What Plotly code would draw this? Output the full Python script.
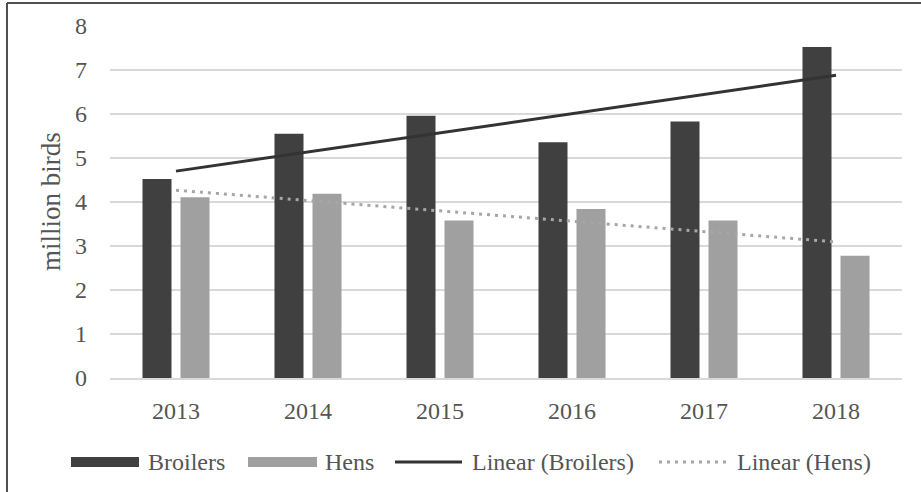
import numpy as np
import plotly.graph_objects as go

years = ["2013", "2014", "2015", "2016", "2017", "2018"]
broilers = [4.52, 5.55, 5.96, 5.36, 5.83, 7.52]
hens = [4.11, 4.19, 3.58, 3.84, 3.58, 2.78]
y_ticks = [0, 1, 2, 3, 4, 5, 6, 7, 8]

W, H = 921, 492
L, R, T, B = 110, 19, 26, 114
PW, PH = W - L - R, H - T - B

def px(x):
    return (x - L) / PW

def py(y):
    return (H - B - y) / PH

idx = np.arange(1, len(years) + 1)
bro_fit = np.polyval(np.polyfit(idx, broilers, 1), idx)
hen_fit = np.polyval(np.polyfit(idx, hens, 1), idx)

DARK = "#404040"
LIGHT = "#a0a0a0"
TXT = "#555555"
FONT = "Liberation Serif"

fig = go.Figure()
fig.add_trace(go.Bar(x=years, y=broilers, name="Broilers", marker=dict(color=DARK, line=dict(width=0))))
fig.add_trace(go.Bar(x=years, y=hens, name="Hens", marker=dict(color=LIGHT, line=dict(width=0))))
fig.add_trace(go.Scatter(x=years, y=bro_fit, mode="lines", name="Linear (Broilers)",
                         line=dict(color="#333333", width=3)))
fig.add_trace(go.Scatter(x=years, y=hen_fit, mode="lines", name="Linear (Hens)",
                         line=dict(color="#a6a6a6", width=3, dash="3px,5px")))

shapes = []
# border (left and top)
shapes.append(dict(type="line", xref="paper", yref="paper", x0=px(7), x1=px(W + 5), y0=py(3), y1=py(3),
                   line=dict(color="#505050", width=2)))
shapes.append(dict(type="line", xref="paper", yref="paper", x0=px(7), x1=px(7), y0=py(3), y1=py(H + 5),
                   line=dict(color="#505050", width=2)))

# custom legend
ly = 462
shapes.append(dict(type="rect", xref="paper", yref="paper", x0=px(71), x1=px(139), y0=py(457), y1=py(467),
                   fillcolor=DARK, line=dict(width=0)))
shapes.append(dict(type="rect", xref="paper", yref="paper", x0=px(248), x1=px(317), y0=py(457), y1=py(467),
                   fillcolor=LIGHT, line=dict(width=0)))
shapes.append(dict(type="line", xref="paper", yref="paper", x0=px(395), x1=px(462), y0=py(ly), y1=py(ly),
                   line=dict(color="#333333", width=3)))
shapes.append(dict(type="line", xref="paper", yref="paper", x0=px(659), x1=px(728), y0=py(ly), y1=py(ly),
                   line=dict(color="#a6a6a6", width=3, dash="3px,5px")))

annotations = []
for x0, txt in [(146, "Broilers"), (323, "Hens"), (470, "Linear (Broilers)"), (735, "Linear (Hens)")]:
    annotations.append(dict(text=txt, xref="paper", yref="paper", x=px(x0), y=py(ly), xanchor="left",
                            yanchor="middle", showarrow=False, font=dict(family=FONT, size=24, color=TXT)))
annotations.append(dict(text="million birds", xref="paper", yref="paper", x=px(51), y=py(202),
                        xanchor="center", yanchor="middle", textangle=-90, showarrow=False,
                        font=dict(family=FONT, size=27, color=TXT)))

fig.update_layout(
    width=W, height=H,
    margin=dict(l=L, r=R, t=T, b=B),
    paper_bgcolor="white", plot_bgcolor="white",
    barmode="group", bargap=0.424, bargroupgap=0.237,
    showlegend=False,
    shapes=shapes, annotations=annotations,
    font=dict(family=FONT, size=24, color=TXT),
)
fig.update_xaxes(showgrid=False, showline=True, linecolor="#d9d9d9", linewidth=1.5, ticks="",
                 ticklabelstandoff=10, tickfont=dict(family=FONT, size=24, color=TXT))
fig.update_yaxes(range=[0, 8], tickvals=y_ticks, showgrid=True, gridcolor="#d9d9d9", gridwidth=1.5,
                 zeroline=False, showline=False, ticks="", ticklabelstandoff=22,
                 tickfont=dict(family=FONT, size=24, color=TXT))

fig.write_html("out.html", config={"displayModeBar": False},
               post_script="document.body.style.margin='0';document.body.style.padding='0';")
